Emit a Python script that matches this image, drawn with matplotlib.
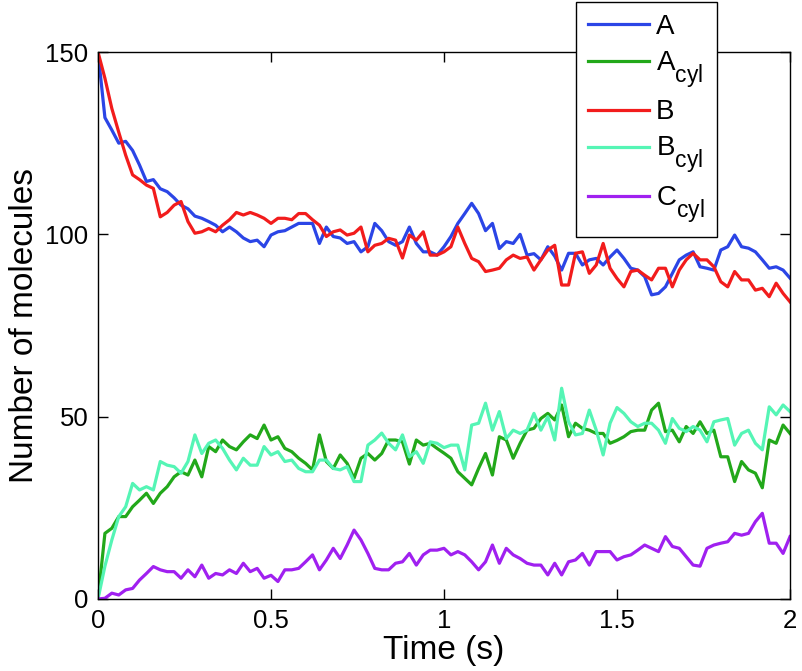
import numpy as np
import matplotlib
matplotlib.use("Agg")
import matplotlib.pyplot as plt
import matplotlib._mathtext as _mt

# larger, lower subscripts, closer to the reference legend
_mt.SHRINK_FACTOR = 0.82
_mt.FontConstantsBase.subdrop = 0.8
_mt.FontConstantsBase.sub1 = 0.8

plt.rcParams['font.family'] = ['Liberation Sans', 'DejaVu Sans']
plt.rcParams['mathtext.fontset'] = 'custom'
plt.rcParams['mathtext.rm'] = 'Liberation Sans'
plt.rcParams['mathtext.it'] = 'Liberation Sans'

# time samples (s)
time = np.round(np.arange(101) * 0.02, 2)

A = [150, 132, 128.6, 125, 125.5, 123, 119, 114.5, 115, 112.5,
     111.7, 110, 108, 107, 105, 104.4, 103.5, 102.5, 100.7, 102,
     100.7, 99, 98, 98.4, 96.6, 99.8, 100.7, 101, 102, 103,
     103, 103, 97.5, 102, 99.4, 99, 97.5, 98, 95.2, 96.6,
     103, 101, 98, 97, 98, 102, 97.5, 95.2, 95.2, 94.3,
     96.6, 99.4, 103, 105.7, 108.5, 105.7, 101, 103, 96.1, 98,
     97.5, 100, 94.3, 94.7, 93, 96.6, 94, 90.2, 94.8, 94.8,
     91.6, 93, 93.4, 91.6, 93.8, 95.7, 93.4, 90.7, 90.2, 88.4,
     83.4, 83.8, 85.6, 89.3, 93, 94.3, 95.2, 91.1, 90.7, 90.2,
     95.7, 96.6, 99.8, 96.6, 96.2, 95.2, 93, 90.7, 91.1, 90.2,
     88]

A_cyl = [0, 18, 19.4, 22.6, 22.6, 25.3, 27.1, 29, 26.2, 29,
         30.8, 33.5, 34.9, 34, 38.1, 33.5, 41.8, 40.4, 43.6, 41.8,
         40.9, 43.1, 45, 44, 47.7, 43.6, 44.5, 41.3, 40.4, 38.6,
         37.2, 35.4, 45, 37.7, 35.8, 39.5, 37.2, 33.1, 38.6, 39.9,
         38.1, 39.9, 43.6, 43.6, 43.1, 37, 43.6, 42.2, 42.7, 41.3,
         40, 38.6, 34.9, 33.1, 31.3, 35.8, 39.9, 34, 44.5, 43.6,
         38.6, 42.7, 46.3, 46.8, 49.5, 50.9, 49.1, 53.2, 44.5, 48.2,
         46.8, 46.3, 45.4, 45.4, 42.7, 43.5, 44.5, 45.9, 46.3, 46.3,
         51.8, 53.7, 45.9, 46.3, 43.1, 47.3, 45.4, 48.6, 45.4, 46.3,
         39, 39, 32.2, 37.7, 35.4, 34.5, 30.5, 43.6, 42.7, 47.7,
         45.4]

B = [150, 142.8, 134.5, 128, 121.7, 116.3, 115, 113.5, 112.6, 104.8,
     106, 108, 109, 103.5, 100.3, 100.7, 101.6, 100.7, 102.5, 104,
     106, 105.3, 106, 105.3, 104.4, 103, 104.4, 104.4, 104, 105.7,
     105.7, 104, 102.5, 99.4, 100.7, 101.2, 99.8, 100.3, 102, 95.2,
     97, 97.5, 98.9, 98.4, 93.5, 99.8, 98.4, 100.7, 94.3, 94.3,
     95.2, 96.6, 102, 97.5, 93.4, 92.5, 89.8, 90.2, 90.7, 93,
     94.3, 93.4, 93.8, 90.2, 93, 95.7, 97, 86.1, 86.1, 94.8,
     95.2, 89.3, 91.6, 97.5, 90.7, 87.9, 85.6, 89.8, 90.2, 88.8,
     87.5, 90.7, 90.7, 85.6, 90.2, 93, 94.8, 93, 93, 91.1,
     87, 85.6, 89.8, 87.5, 87.5, 84.7, 85.2, 82.9, 86.6, 83.8,
     81.5]

B_cyl = [0, 9, 16.2, 22.6, 25.3, 31.7, 29.9, 30.8, 29.9, 37.7,
         36.7, 36.3, 34.5, 37.7, 45, 39.9, 42.7, 43.6, 41.3, 38.1,
         35.4, 38.6, 36.7, 36.7, 41.8, 39.5, 40.4, 37.7, 38.1, 35.8,
         34.9, 34.9, 38.1, 38.1, 35.8, 35.4, 36.3, 32.2, 32.2, 42.2,
         43.6, 45.5, 42.7, 40.9, 45, 39, 40.4, 37.2, 43.1, 42.7,
         41.5, 42.2, 42.2, 35.4, 47.7, 48.2, 53.7, 46.3, 51.4, 44,
         46.3, 45.4, 46.3, 50.9, 46.3, 50, 43.6, 57.8, 48.6, 45,
         45.4, 51.8, 46.3, 39.5, 48.2, 52.5, 50.9, 48.6, 47.3, 48.2,
         48.2, 46.3, 42.7, 49.5, 46.8, 45.9, 47.3, 46.3, 43.1, 48.6,
         49.1, 49.5, 42.2, 45.4, 46.3, 42.7, 40.9, 52.7, 50.5, 53.2,
         51.4]

C_cyl = [0, 0.2, 1.6, 1.1, 2.5, 2.9, 5.2, 7, 8.9, 8,
         7.5, 7.5, 5.7, 8, 6.1, 9.3, 5.7, 7, 6.6, 8,
         7, 9.8, 7.5, 8.4, 5.7, 6.5, 4.8, 8, 8, 8.4,
         10.2, 12.1, 8, 10.7, 13.9, 11.1, 14.8, 18.9, 16.2, 12.5,
         8.4, 8, 8, 9.8, 10.2, 12.5, 9.3, 12.1, 13.4, 13.4,
         13.9, 12.1, 13, 12.1, 10.2, 8, 10.2, 14.8, 9.8, 13.9,
         12.1, 11.1, 9.8, 9.3, 9.3, 6.6, 9.8, 6.6, 10.2, 10.7,
         12.5, 9.3, 13, 13, 13, 10.7, 11.6, 12.1, 13.4, 14.8,
         13.9, 13, 17.1, 14.4, 13.9, 11.6, 9.3, 9, 13.9, 14.8,
         15.3, 15.7, 18, 17.5, 18, 21.2, 23.5, 15.3, 15.3, 12.5,
         17.1]

labels = ['A', r'A$_{\rm cyl}$', 'B', r'B$_{\rm cyl}$', r'C$_{\rm cyl}$']
colors = ['#2b45e6', '#22a81a', '#f21c1c', '#55f5b5', '#a020f0']
series = [A, A_cyl, B, B_cyl, C_cyl]

fig = plt.figure(figsize=(8.02, 6.71), dpi=100)
ax = fig.add_axes([98/802, 1 - 599/671, 692/802, 547/671])

for s, c, lab in zip(series, colors, labels):
    ax.plot(time, s, color=c, lw=2.3, label=lab)

ax.set_xlim(0, 2)
ax.set_ylim(0, 150)
ax.set_xticks([0, 0.5, 1, 1.5, 2])
ax.set_xticklabels(['0', '0.5', '1', '1.5', '2'])
ax.set_yticks([0, 50, 100, 150])
ax.tick_params(direction='in', length=7, width=1, top=True, right=True,
               labelsize=18.5, pad=7)
for sp in ax.spines.values():
    sp.set_linewidth(1.0)
ax.set_xlabel('Time (s)', fontsize=24, labelpad=2)
ax.set_ylabel('Number of molecules', fontsize=24, labelpad=4)

leg = ax.legend(loc='upper left', bbox_to_anchor=(576/802, 1 - 2/671),
                bbox_transform=fig.transFigure, borderaxespad=0,
                fontsize=20, handlelength=2.2, handletextpad=0.25,
                labelspacing=0.35, fancybox=False, frameon=True,
                borderpad=0.43)
leg.get_frame().set_edgecolor('black')
leg.get_frame().set_linewidth(1.0)
leg.get_frame().set_alpha(1)

fig.savefig('out.png', dpi=100)
